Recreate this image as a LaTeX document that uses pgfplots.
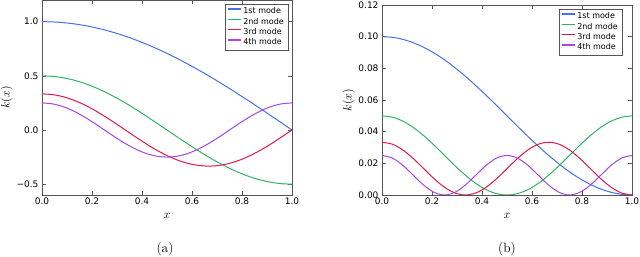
\documentclass[border=0pt]{standalone}
\usepackage{fontspec}
\usepackage{pgfplots}
\usepackage{pgfplotstable}
\pgfplotsset{compat=1.18}
\newfontfamily\dejavu{DejaVu Sans}
\definecolor{cA}{RGB}{72,112,232}
\definecolor{cB}{RGB}{50,178,100}
\definecolor{cC}{RGB}{226,24,72}
\definecolor{cD}{RGB}{164,70,232}
\definecolor{frame}{RGB}{85,85,85}

\pgfplotstableread{
x a1 a2 a3 a4 b1 b2 b3 b4
0.000000 1.000000 0.500000 0.333333 0.250000 0.1000000 0.0500000 0.0333333 0.0250000
0.041667 0.997859 0.495722 0.326928 0.241481 0.0995722 0.0491482 0.0320647 0.0233253
0.083333 0.991445 0.482963 0.307960 0.216506 0.0982963 0.0466506 0.0284518 0.0187500
0.125000 0.980785 0.461940 0.277157 0.176777 0.0961940 0.0426777 0.0230447 0.0125000
0.166667 0.965926 0.433013 0.235702 0.125000 0.0933013 0.0375000 0.0166667 0.0062500
0.208333 0.946930 0.396677 0.185190 0.064705 0.0896677 0.0314705 0.0102886 0.0016747
0.250000 0.923880 0.353553 0.127561 0.000000 0.0853553 0.0250000 0.0048816 0.0000000
0.291667 0.896873 0.304381 0.065030 -0.064705 0.0804381 0.0185295 0.0012687 0.0016747
0.333333 0.866025 0.250000 0.000000 -0.125000 0.0750000 0.0125000 0.0000000 0.0062500
0.375000 0.831470 0.191342 -0.065030 -0.176777 0.0691342 0.0073223 0.0012687 0.0125000
0.416667 0.793353 0.129410 -0.127561 -0.216506 0.0629410 0.0033494 0.0048816 0.0187500
0.458333 0.751840 0.065263 -0.185190 -0.241481 0.0565263 0.0008519 0.0102886 0.0233253
0.500000 0.707107 0.000000 -0.235702 -0.250000 0.0500000 0.0000000 0.0166667 0.0250000
0.541667 0.659346 -0.065263 -0.277157 -0.241481 0.0434737 0.0008519 0.0230447 0.0233253
0.583333 0.608761 -0.129410 -0.307960 -0.216506 0.0370591 0.0033494 0.0284518 0.0187500
0.625000 0.555570 -0.191342 -0.326928 -0.176777 0.0308658 0.0073223 0.0320647 0.0125000
0.666667 0.500000 -0.250000 -0.333333 -0.125000 0.0250000 0.0125000 0.0333333 0.0062500
0.708333 0.442289 -0.304381 -0.326928 -0.064705 0.0195620 0.0185295 0.0320647 0.0016747
0.750000 0.382683 -0.353553 -0.307960 0.000000 0.0146447 0.0250000 0.0284518 0.0000000
0.791667 0.321439 -0.396677 -0.277157 0.064705 0.0103323 0.0314705 0.0230447 0.0016747
0.833333 0.258819 -0.433013 -0.235702 0.125000 0.0066987 0.0375000 0.0166667 0.0062500
0.875000 0.195090 -0.461940 -0.185190 0.176777 0.0038060 0.0426777 0.0102886 0.0125000
0.916667 0.130526 -0.482963 -0.127561 0.216506 0.0017037 0.0466506 0.0048816 0.0187500
0.958333 0.065403 -0.495722 -0.065030 0.241481 0.0004278 0.0491482 0.0012687 0.0233253
1.000000 0.000000 -0.500000 0.000000 0.250000 0.0000000 0.0500000 0.0000000 0.0250000
}\modes

\pgfplotsset{
  mystyle/.style={
    scale only axis,
    width=250pt,
    xmin=0, xmax=1,
    axis line style={frame, line width=0.8pt},
    tick align=inside,
    major tick length=4pt,
    tick style={frame, line width=0.6pt},
    xtick={0,0.2,0.4,0.6,0.8,1.0},
    xticklabels={0.0,0.2,0.4,0.6,0.8,1.0},
    ticklabel style={font=\dejavu\fontsize{9}{10}\selectfont, text=black},
    xticklabel style={yshift=1pt},
    xlabel={$x$},
    ylabel={$k(x)$},
    label style={font=\fontsize{13}{14}\selectfont},
    xlabel style={yshift=-2pt},
    ylabel style={yshift=-3pt},
    legend cell align=left,
    legend style={at={(1,1)}, anchor=north east, xshift=-4pt, yshift=-4pt,
      font=\dejavu\fontsize{8}{9}\selectfont, draw=frame,
      inner xsep=2pt, inner ysep=1.5pt, row sep=-1.2pt},
    legend image code/.code={\draw[mark repeat=2,mark phase=2,#1] plot coordinates {(0pt,2.5pt) (6.5pt,2.5pt) (13pt,2.5pt)};},
    legend image post style={line width=1.3pt},
    every axis plot/.append style={line width=1pt, smooth, no marks},
  }
}

\begin{document}
\begin{tikzpicture}
\useasboundingbox (0,0) rectangle (640pt,257pt);
\begin{axis}[mystyle, at={(42pt,62pt)}, anchor=south west, height=195pt,
  ymin=-0.6, ymax=1.2,
  ytick={-0.5,0,0.5,1.0},
  yticklabels={−0.5,0.0,0.5,1.0}]
\addplot[color=cA] table[x=x,y=a1] {\modes};
\addplot[color=cB] table[x=x,y=a2] {\modes};
\addplot[color=cC] table[x=x,y=a3] {\modes};
\addplot[color=cD] table[x=x,y=a4] {\modes};
\legend{1st mode,2nd mode,3rd mode,4th mode}
\end{axis}
\begin{axis}[mystyle, at={(382pt,62pt)}, anchor=south west, height=190pt,
  ymin=0, ymax=0.12,
  ytick={0,0.02,0.04,0.06,0.08,0.10,0.12},
  yticklabels={0.00,0.02,0.04,0.06,0.08,0.10,0.12},
  legend style={xshift=-6pt}]
\addplot[color=cA] table[x=x,y=b1] {\modes};
\addplot[color=cB] table[x=x,y=b2] {\modes};
\addplot[color=cC] table[x=x,y=b3] {\modes};
\addplot[color=cD] table[x=x,y=b4] {\modes};
\legend{1st mode,2nd mode,3rd mode,4th mode}
\end{axis}
\node[font=\fontsize{13.5}{15}\selectfont, anchor=base] at (165pt,4pt) {(a)};
\node[font=\fontsize{13.5}{15}\selectfont, anchor=base] at (507pt,4pt) {(b)};
\end{tikzpicture}
\end{document}
